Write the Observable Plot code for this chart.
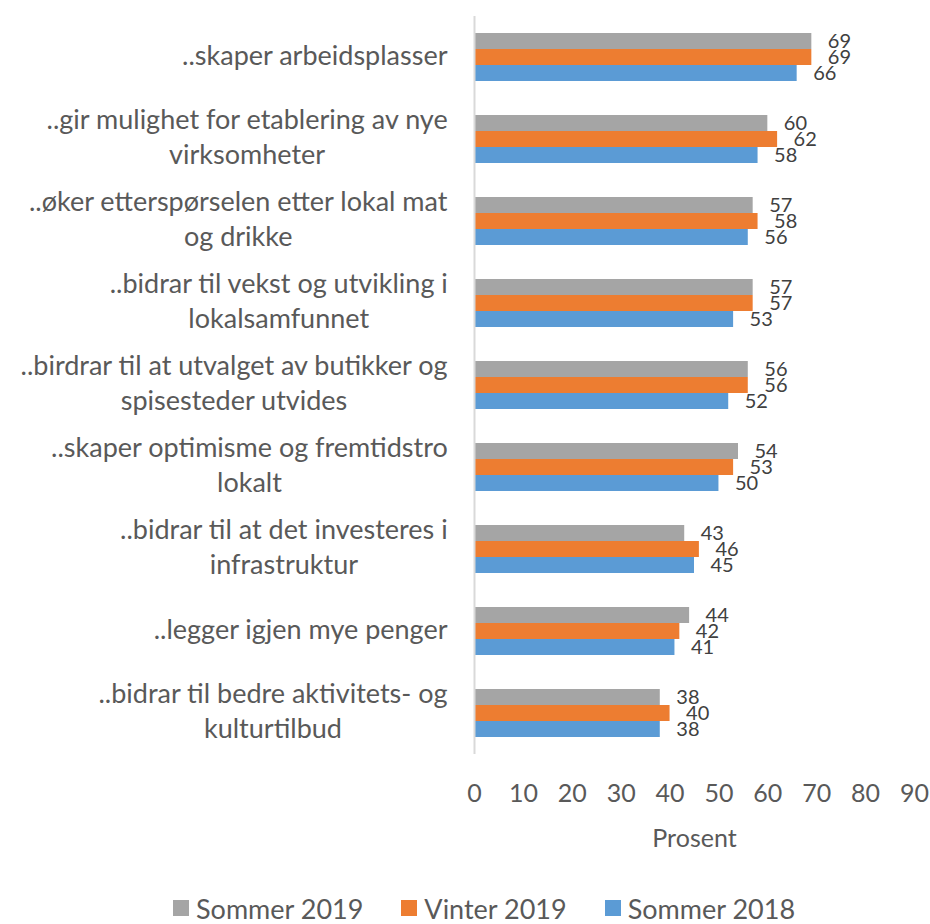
<!DOCTYPE html>
<html><head><meta charset="utf-8">
<script src="https://cdn.jsdelivr.net/npm/d3@7"></script>
<script src="https://cdn.jsdelivr.net/npm/@observablehq/plot@0.6"></script>
<style>
body{margin:0;background:#fff;font-family:Lato, sans-serif;overflow:hidden;}
#legend{display:flex;align-items:center;padding-left:173px;font-size:27px;line-height:1;color:#595959;height:36px;margin-top:20px;}
#legend .item{display:flex;align-items:center;margin-right:38px;}
#legend .sw{width:16px;height:16px;margin-right:7px;display:inline-block;}
</style></head><body><div id="chart"></div><div id="legend"></div>
<script>
const categories = [
  "..skaper arbeidsplasser",
  "..gir mulighet for etablering av nye\nvirksomheter",
  "..øker etterspørselen etter lokal mat\nog drikke",
  "..bidrar til vekst og utvikling i\nlokalsamfunnet",
  "..birdrar til at utvalget av butikker og\nspisesteder utvides",
  "..skaper optimisme og fremtidstro\nlokalt",
  "..bidrar til at det investeres i\ninfrastruktur",
  "..legger igjen mye penger",
  "..bidrar til bedre aktivitets- og\nkulturtilbud"
];
const seriesNames = ["Sommer 2019", "Vinter 2019", "Sommer 2018"];
const sommer2019 = [69, 60, 57, 57, 56, 54, 43, 44, 38];
const vinter2019 = [69, 62, 58, 57, 56, 53, 46, 42, 40];
const sommer2018 = [66, 58, 56, 53, 52, 50, 45, 41, 38];
const colors = ["#A5A5A5", "#ED7D31", "#5B9BD5"];
const xTicks = [0, 10, 20, 30, 40, 50, 60, 70, 80, 90];
const axisLabel = "Prosent";

const seriesValues = [sommer2019, vinter2019, sommer2018];
const data = categories.flatMap((c, i) => seriesValues.map((arr, j) => ({category: c, series: seriesNames[j], value: arr[i]})));

const chart = Plot.plot({
  width: 930, height: 870,
  marginLeft: 474, marginRight: 16, marginTop: 14, marginBottom: 115,
  style: {fontFamily: "Lato, sans-serif", fontSize: "25px", color: "#595959", background: "white"},
  x: {domain: [0, 90], ticks: xTicks},
  y: {domain: seriesNames, axis: null, paddingInner: 0, paddingOuter: 0.92},
  fy: {domain: categories, padding: 0},
  color: {domain: seriesNames, range: colors},
  marks: [
    Plot.axisX({ticks: xTicks, tickSize: 0, tickPadding: 30, label: axisLabel, labelAnchor: "center", labelArrow: "none", labelOffset: 92, fill: "#595959", fontSize: 25}),
    Plot.axisFy({anchor: "left", tickSize: 0, tickPadding: 27, lineHeight: 1.3, dy: -4, fill: "#595959", fontSize: 27, label: null}),
    Plot.barX(data, {x: "value", y: "series", fy: "category", fill: "series"}),
    Plot.ruleX([0], {stroke: "#d9d9d9", strokeWidth: 2}),
    Plot.text(data, {x: "value", y: "series", fy: "category", text: d => String(d.value), textAnchor: "start", dx: 16, fill: "#404040", fontSize: 20})
  ]
});
document.getElementById("chart").append(chart);
chart.querySelectorAll('g[aria-label="fy-axis tick label"] text').forEach(t => {
  const b1 = t.getBBox();
  t.setAttribute("text-anchor", "middle");
  const b2 = t.getBBox();
  const delta = (b1.x + b1.width) - (b2.x + b2.width);
  const tr = t.getAttribute("transform") || "";
  t.setAttribute("transform", tr + ` translate(${delta},0)`);
});
const legend = document.getElementById("legend");
seriesNames.forEach((s, i) => {
  const it = document.createElement("div"); it.className = "item";
  const sw = document.createElement("span"); sw.className = "sw"; sw.style.background = colors[i];
  it.append(sw, document.createTextNode(s));
  legend.append(it);
});
</script></body></html>
